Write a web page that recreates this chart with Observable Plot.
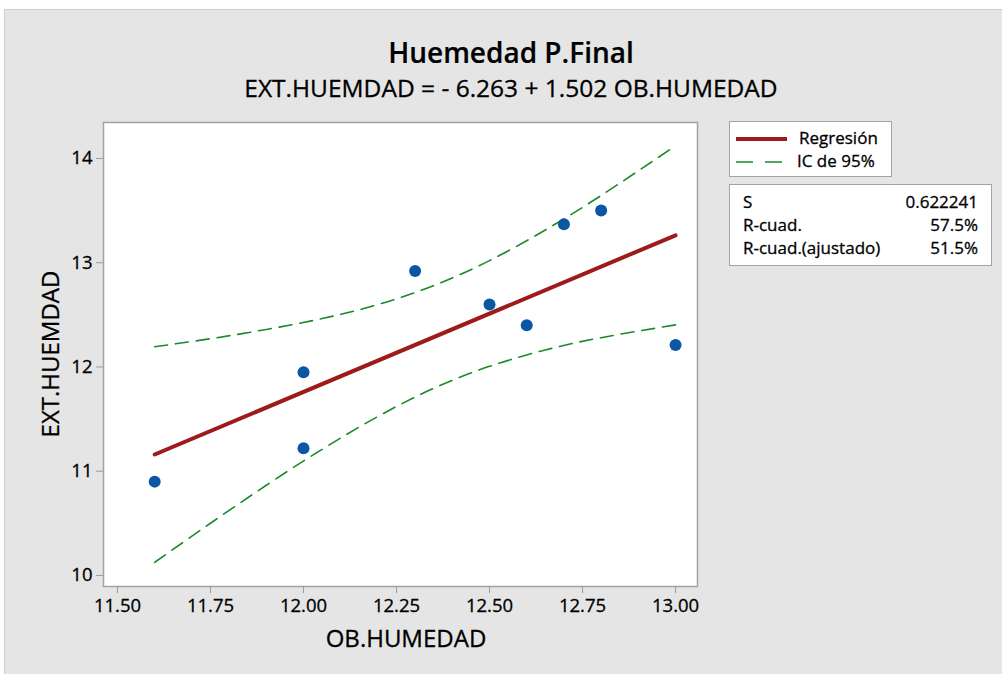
<!DOCTYPE html>
<html>
<head>
<meta charset="utf-8">
<script src="https://cdn.jsdelivr.net/npm/d3@7"></script>
<script src="https://cdn.jsdelivr.net/npm/@observablehq/plot@0.6"></script>
<style>
  html, body { margin: 0; padding: 0; background: #ffffff; }
  #page { position: relative; width: 1002px; height: 674px; overflow: hidden; font-family: "Open Sans", "Noto Sans", sans-serif; color: #000; -webkit-text-stroke: 0.3px #000; }
  #panel { position: absolute; left: 4px; top: 9px; width: 1010px; height: 680px; background: #e5e5e5; border: 1px solid #cfcfcf; box-sizing: border-box; }
  .abs { position: absolute; white-space: nowrap; }
  #title { left: 261px; width: 500px; top: 36px; text-align: center; font-size: 28px; line-height: 32px; font-weight: 600; -webkit-text-stroke: 0.2px #000; }
  #subtitle { left: 161px; width: 700px; top: 74px; text-align: center; font-size: 24.5px; line-height: 28px; }
  #xlabel { left: 256px; width: 300px; top: 625px; text-align: center; font-size: 24px; line-height: 26px; }
  #ylabel { left: 50px; top: 354px; font-size: 24px; line-height: 26px; transform: translate(-50%, -50%) rotate(-90deg); }
  #chart { position: absolute; left: 0; top: 0; }
  #chart text { stroke: #000; stroke-width: 0.3px; }
  .box { position: absolute; background: #fff; border: 1.5px solid #a3a3a3; box-sizing: border-box; font-size: 17px; }
  .row { position: absolute; line-height: 22px; }
</style>
</head>
<body>
<div id="page">
  <div id="panel"></div>
  <div id="chart"></div>
  <div id="title" class="abs">Huemedad P.Final</div>
  <div id="subtitle" class="abs">EXT.HUEMDAD = - 6.263 + 1.502 OB.HUMEDAD</div>
  <div id="xlabel" class="abs">OB.HUMEDAD</div>
  <div id="ylabel" class="abs">EXT.HUEMDAD</div>
  <div class="box" style="left:729px; top:121px; width:163px; height:56px;">
    <svg class="abs" style="left:0; top:0;" width="163" height="56">
      <line x1="6" x2="57" y1="17" y2="17" stroke="#9e1b1b" stroke-width="4"></line>
      <line x1="6" x2="57" y1="40" y2="40" stroke="#1a8a2a" stroke-width="1.6" stroke-dasharray="17,12"></line>
    </svg>
    <div class="row" style="left:69px; top:5px;">Regresión</div>
    <div class="row" style="left:67px; top:28px;">IC de 95%</div>
  </div>
  <div class="box" style="left:729px; top:184px; width:263px; height:82px;">
    <div class="row" style="left:13px; top:6px;">S</div>
    <div class="row" style="right:13px; top:6px;">0.622241</div>
    <div class="row" style="left:13px; top:29px;">R-cuad.</div>
    <div class="row" style="right:13px; top:29px;">57.5%</div>
    <div class="row" style="left:13px; top:52px;">R-cuad.(ajustado)</div>
    <div class="row" style="right:13px; top:52px;">51.5%</div>
  </div>
</div>
<script>
// Observed data
const obHumedad = [11.6, 12.0, 12.0, 12.3, 12.5, 12.6, 12.7, 12.8, 13.0];
const extHumedad = [10.9, 11.95, 11.22, 12.92, 12.6, 12.4, 13.37, 13.5, 12.21];

// Fitted regression line (endpoints)
const fitX = [11.6, 13.0];
const fitY = [11.16, 13.263];

// 95% confidence band
const ciX = [11.6, 11.75, 11.9, 12.05, 12.2, 12.35, 12.5, 12.65, 12.8, 13.0];
const ciUpper = [12.194, 12.271, 12.36, 12.464, 12.599, 12.781, 13.02, 13.314, 13.645, 14.122];
const ciLower = [10.126, 10.501, 10.865, 11.21, 11.525, 11.795, 12.006, 12.163, 12.281, 12.404];

// Axis ticks
const xTicks = [11.5, 11.75, 12.0, 12.25, 12.5, 12.75, 13.0];
const yTicks = [10, 11, 12, 13, 14];

const points = obHumedad.map((x, i) => ({x, y: extHumedad[i]}));
const fit = fitX.map((x, i) => ({x, y: fitY[i]}));
const upper = ciX.map((x, i) => ({x, y: ciUpper[i]}));
const lower = ciX.map((x, i) => ({x, y: ciLower[i]}));

const chart = Plot.plot({
  width: 1002,
  height: 674,
  marginLeft: 103,
  marginRight: 305,
  marginTop: 122,
  marginBottom: 88,
  style: {background: "transparent", fontFamily: "'Open Sans', sans-serif", fontSize: "18.5px", color: "#000"},
  x: {domain: [11.4624, 13.059]},
  y: {domain: [9.894, 14.345]},
  marks: [
    Plot.frame({fill: "white", stroke: "#a3a3a3", strokeWidth: 1.5}),
    Plot.axisX({ticks: xTicks, tickFormat: d3.format(".2f"), tickSize: 7, tickPadding: 5, stroke: "#9a9a9a", fill: "#000", label: null}),
    Plot.axisY({ticks: yTicks, tickFormat: d3.format("d"), tickSize: 7, tickPadding: 4, stroke: "#9a9a9a", fill: "#000", label: null}),
    Plot.line(upper, {x: "x", y: "y", stroke: "#1a8a2a", strokeWidth: 1.6, strokeDasharray: "13,8", curve: "natural"}),
    Plot.line(lower, {x: "x", y: "y", stroke: "#1a8a2a", strokeWidth: 1.6, strokeDasharray: "13,8", curve: "natural"}),
    Plot.line(fit, {x: "x", y: "y", stroke: "#9e1b1b", strokeWidth: 4}),
    Plot.dot(points, {x: "x", y: "y", r: 6, fill: "#0b57a4"})
  ]
});
document.getElementById("chart").appendChild(chart);
</script>
</body>
</html>
